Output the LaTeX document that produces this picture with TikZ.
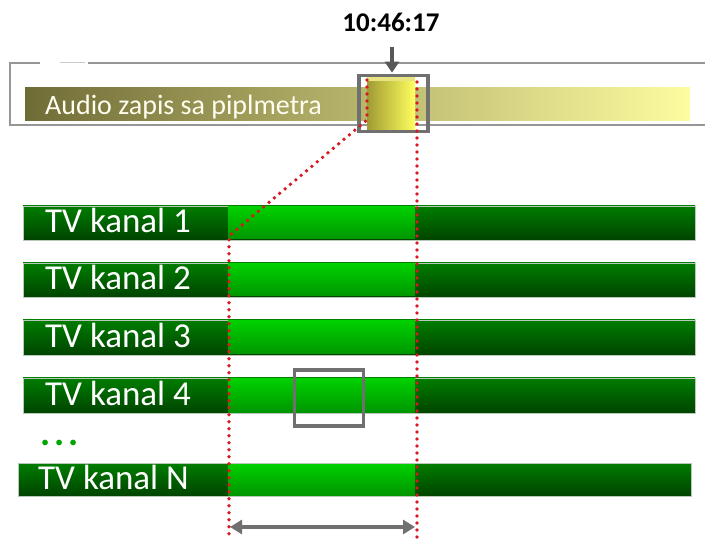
\documentclass[tikz,border=0pt]{standalone}
\usepackage{fontspec}
\setmainfont{Carlito}
\usetikzlibrary{arrows.meta}
\definecolor{darkG}{RGB}{0,125,0}
\definecolor{darkGb}{RGB}{0,68,0}
\definecolor{liteG}{RGB}{0,208,0}
\definecolor{liteGb}{RGB}{0,150,0}
\definecolor{olive1}{RGB}{112,108,55}
\definecolor{olive2}{RGB}{215,212,135}
\definecolor{paleY}{RGB}{253,252,160}
\definecolor{frameG}{RGB}{150,150,150}
\definecolor{boxG}{RGB}{112,112,112}
\definecolor{arrG}{RGB}{88,88,88}
\definecolor{dotR}{RGB}{215,25,35}
\definecolor{yel1}{RGB}{160,155,50}
\definecolor{yel2}{RGB}{255,255,95}
\definecolor{yelTop}{RGB}{232,228,130}
\definecolor{dotG}{RGB}{0,165,0}
\definecolor{edgeG}{RGB}{185,200,185}
\begin{document}
\begin{tikzpicture}[x=1pt,y=-1pt,
  chan/.style={top color=darkG,bottom color=darkGb,draw=edgeG,line width=0.6pt},
  seg/.style={top color=liteG,bottom color=liteGb},
  lbl/.style={anchor=base west,text=white,font=\fontsize{35}{40}\selectfont,inner sep=0pt},
  reddots/.style={dotR,line width=3.8pt,line cap=round,dash pattern=on 0pt off 7pt},
  selbox/.style={draw=boxG,line width=3.6pt,inner sep=0pt,minimum width=69pt,minimum height=56pt},
  frame/.style={frameG,line width=2pt},
  ]
\useasboundingbox (0,0) rectangle (705,540);
% top frame
\draw[frame] (40,63) -- (10,63) -- (10,125) -- (705,125);
\draw[frame] (88,63) -- (705,63);
\draw[frame,line width=1pt,frameG!50] (60,63) -- (85,63);
% audio bar
\fill[left color=olive1,middle color=olive2,right color=paleY] (25,88) rectangle (690,121);
\node[anchor=base west,text=white!94!yellow,font=\fontsize{28}{32}\selectfont,inner sep=0pt] (audio) at (45,115) {Audio zapis sa piplmetra};
% highlighted block
\fill[left color=yel1,right color=yel2] (367,76) rectangle (415,130);
\fill[yelTop] (367,76) rectangle (415,81);
\node[selbox] (sel) at (393.5,103.5) {};
% time label and arrow
\node[anchor=base,font=\bfseries\fontsize{27}{30}\selectfont,inner sep=0pt] (time) at (391,32) {10:46:17};
\coordinate (tarr) at (392,47);
\draw[arrG,line width=3.2pt,-{Triangle[length=11pt,width=14pt]}] (tarr) -- ([yshift=1pt]sel.north -| tarr);
% TV channels
\foreach \n/\top/\bot/\l/\r/\tx/\lab in {1/206/240/23/695/45/{TV kanal 1},2/263/297/23/695/45/{TV kanal 2},3/320/355/23/695/45/{TV kanal 3},4/378/413/23/695/45/{TV kanal 4},5/463/496/18/691/38/{TV kanal N}}{
  \draw[chan] (\l,\top) rectangle (\r,\bot);
  \fill[seg] (228,\top+1) rectangle (415,\bot-1);
  \node[lbl] (ch\n) at (\tx,\bot-7) {\lab};
}
\node[anchor=base west,text=dotG,font=\bfseries\fontsize{38}{40}\selectfont,inner sep=0pt] (dots) at (40,446) {.\hspace{4pt}.\hspace{4pt}.};
% box in channel 4
\node[selbox] (box4) at (329,398) {};
% red dotted guides
\coordinate (lt) at (367,80);
\coordinate (lb) at (367,120);
\coordinate (lj) at (229,236);
\coordinate (le) at (229,540);
\coordinate (rt) at (417,82);
\coordinate (re) at (417,540);
\draw[reddots] (lt) -- (lb) -- (lj) -- (le);
\draw[reddots] (rt) -- (re);
% bottom double arrow
\coordinate (la) at (230,527);
\coordinate (ra) at (415,527);
\draw[boxG,line width=3.4pt,{Triangle[length=12pt,width=14pt]}-{Triangle[length=12pt,width=14pt]}] (la) -- (ra);
\end{tikzpicture}
\end{document}
